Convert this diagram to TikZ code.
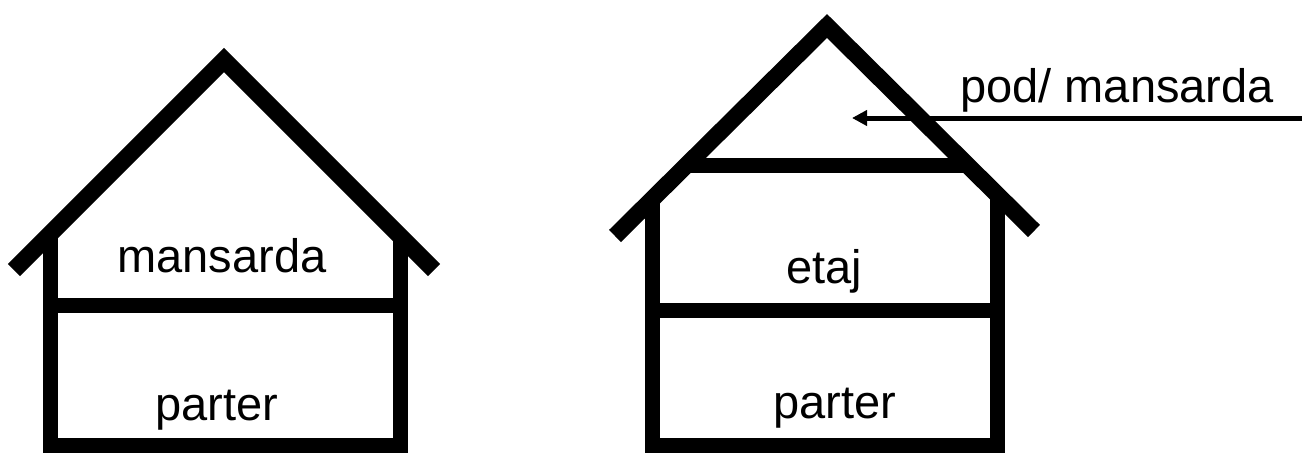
\documentclass[tikz,border=0pt]{standalone}
\usepackage{fontspec}
\setmainfont{Liberation Sans}
\usetikzlibrary{arrows.meta}
\begin{document}
\begin{tikzpicture}[x=1pt,y=-1pt,
  wall/.style={line width=15pt, line join=miter, line cap=butt},
  roof/.style={line width=17pt, line join=miter, line cap=butt},
  lbl/.style={font=\fontsize{47pt}{56pt}\selectfont, inner sep=0pt, anchor=base},
  pointer/.style={line width=5pt, -{Triangle[length=15pt,width=15pt]}}]
\useasboundingbox (0,0) rectangle (1302,453);
% left house
\coordinate (LrL) at (14,270);
\coordinate (Lapex) at (224,60);
\coordinate (LrR) at (434,270);
\draw[roof] (LrL) -- (Lapex) -- (LrR);
\coordinate (LwTL) at (50,234);
\coordinate (LwBL) at (50,445);
\coordinate (LwBR) at (400,445);
\coordinate (LwTR) at (400,236);
\draw[wall] (LwTL) -- (LwBL) -- (LwBR) -- (LwTR);
\coordinate (LfL) at (50,305);
\coordinate (LfR) at (400,305);
\draw[wall] (LfL) -- (LfR);
\node[lbl] (mans) at (222,272) {mansarda};
\node[lbl] (parL) at (217,420) {parter};
% right house
\coordinate (RrL) at (615,236);
\coordinate (Rapex) at (827,26);
\coordinate (RrR) at (1034,231);
\draw[roof] (RrL) -- (Rapex) -- (RrR);
\coordinate (RwTL) at (652,201);
\coordinate (RwBL) at (652,445);
\coordinate (RwBR) at (997,445);
\coordinate (RwTR) at (997,196);
\draw[wall] (RwTL) -- (RwBL) -- (RwBR) -- (RwTR);
\coordinate (RaL) at (688,165);
\coordinate (RaR) at (966,165);
\draw[wall] (RaL) -- (RaR);
\coordinate (RfL) at (652,310);
\coordinate (RfR) at (997,310);
\draw[wall] (RfL) -- (RfR);
\node[lbl] (etaj) at (824,283) {etaj};
\node[lbl] (parR) at (835,418) {parter};
% label and arrow
\node[lbl] (pod) at (1117,102) {pod/ mansarda};
\coordinate (arrowstart) at (1302,118);
\coordinate (arrowtip) at (852,118);
\draw[pointer] (arrowstart) -- (arrowtip);
\end{tikzpicture}
\end{document}
